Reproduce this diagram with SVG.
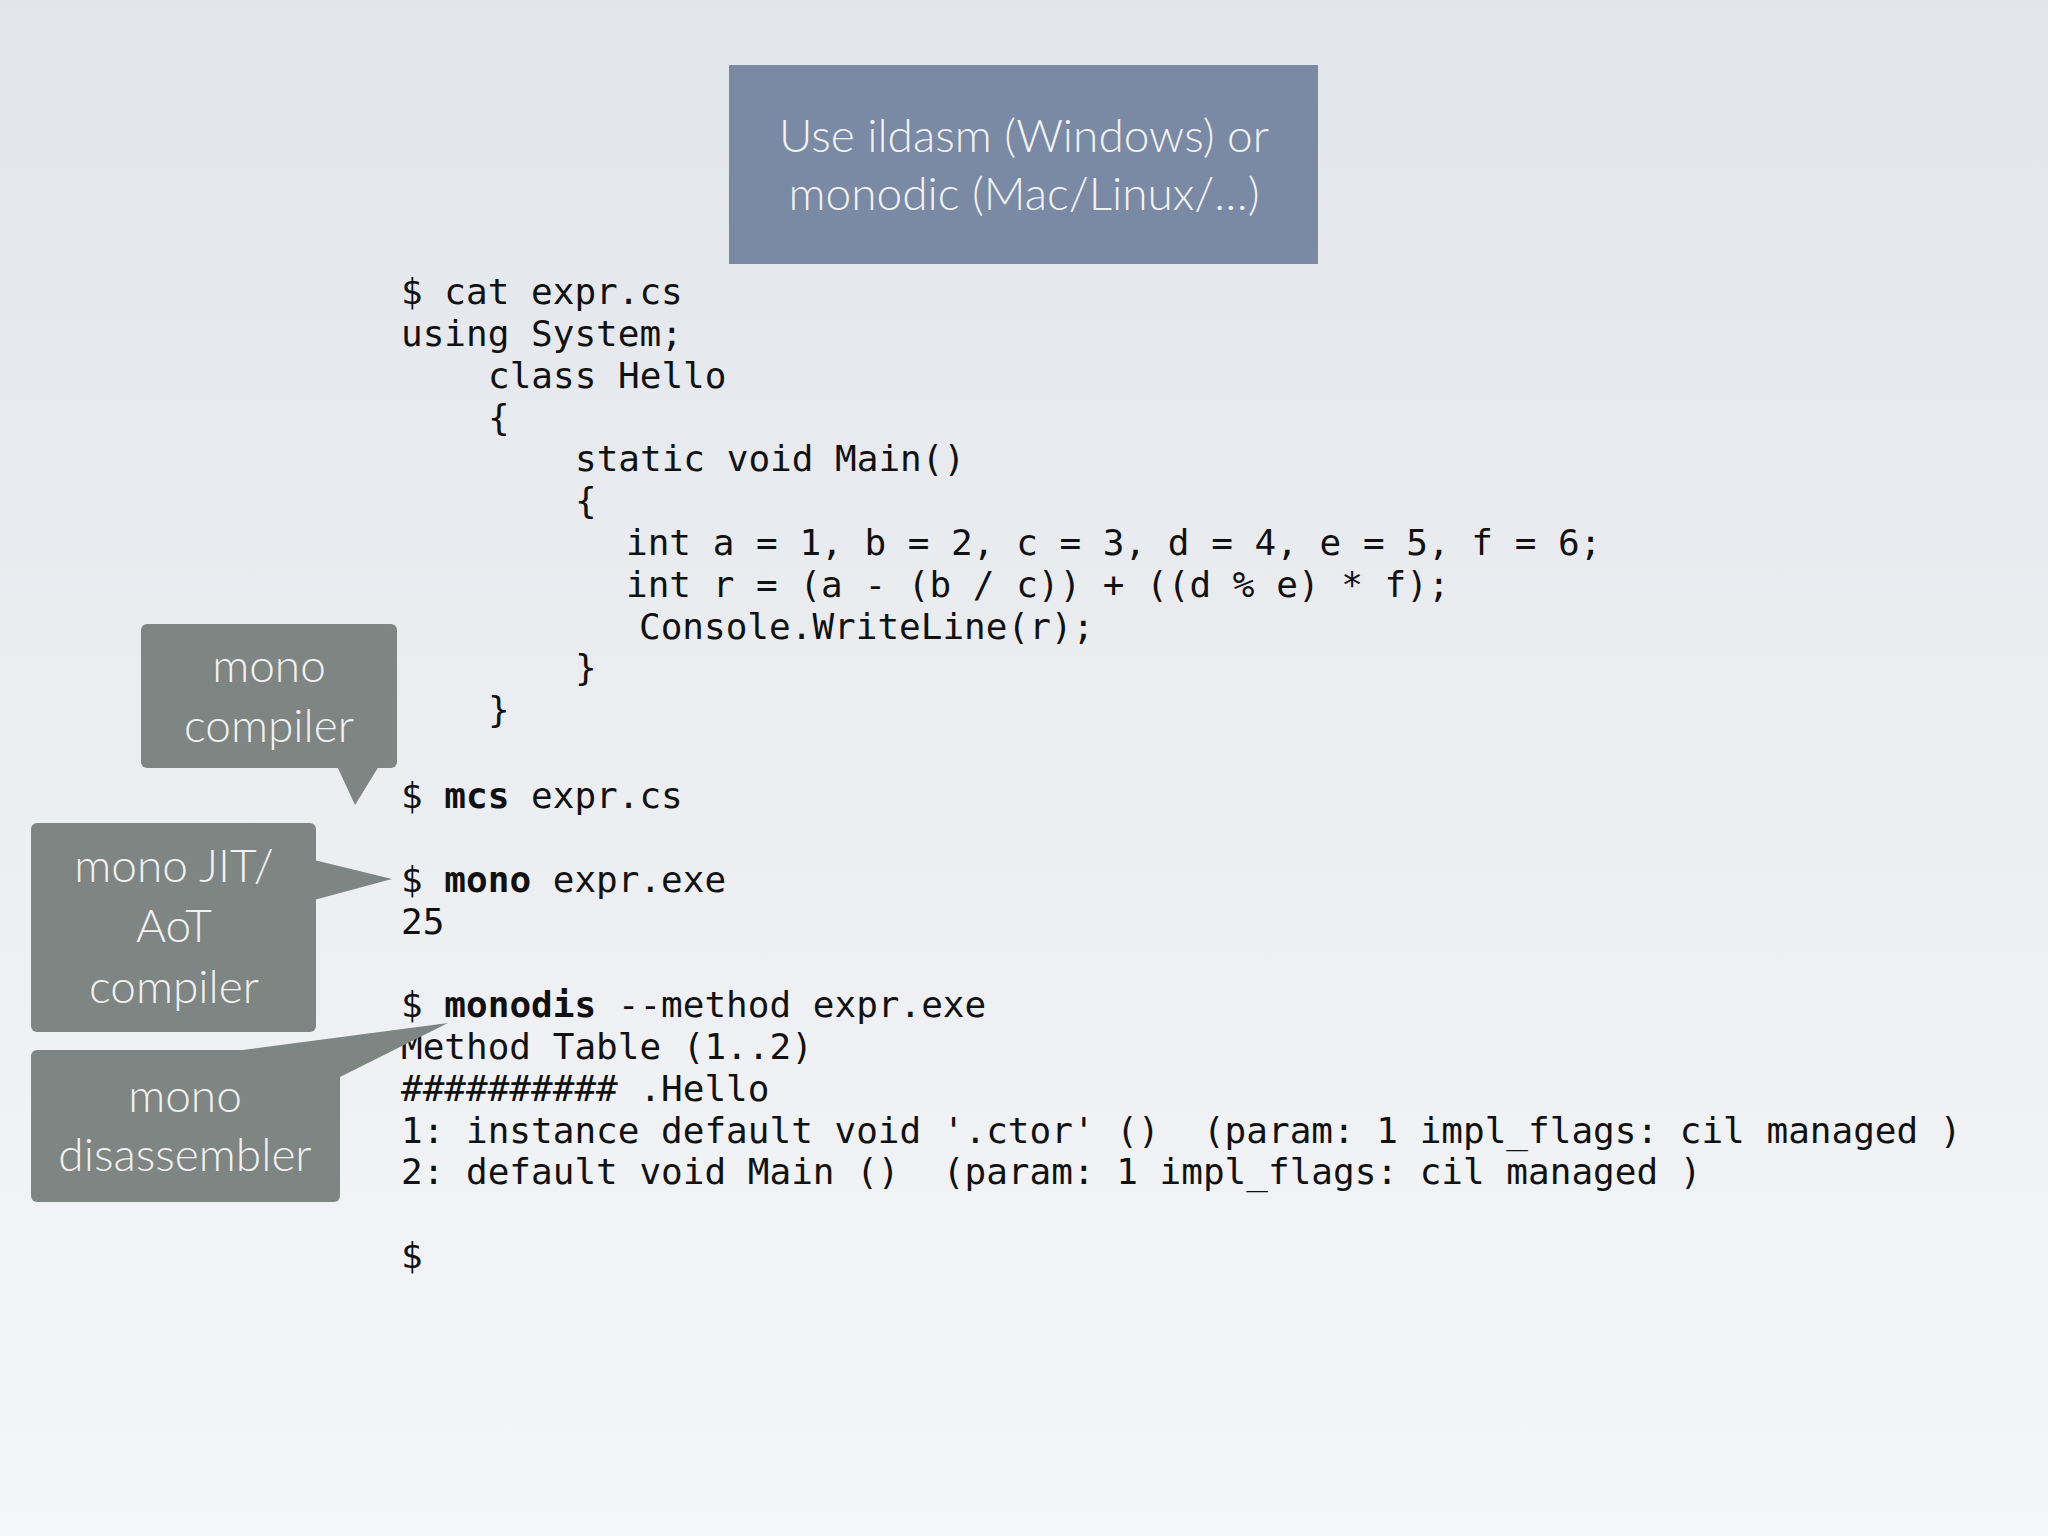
<svg xmlns="http://www.w3.org/2000/svg" width="2048" height="1536" viewBox="0 0 2048 1536">
<defs>
<linearGradient id="bg" x1="0" y1="0" x2="0" y2="1"><stop offset="0" stop-color="#e2e5ea"/><stop offset="1" stop-color="#f5f6f8"/></linearGradient>
<style>
.code{font-family:"DejaVu Sans Mono",monospace;font-size:36px;fill:#111;white-space:pre}
.b{font-weight:bold}
.call{fill:#7f8582}
.ct{font-family:Lato,"Open Sans",sans-serif;font-weight:300;font-size:46px;fill:#f2f2f2;text-anchor:middle}
</style>
</defs>
<rect width="2048" height="1536" fill="url(#bg)"/>
<g id="title">
<rect x="729" y="65" width="589" height="199" fill="#7a89a4"/>
<text class="ct" x="1024" y="152" fill="#e8ecf2">Use ildasm (Windows) or</text>
<text class="ct" x="1024" y="210" fill="#e8ecf2">monodic (Mac/Linux/…)</text>
</g>
<g id="code" class="code">
<text xml:space="preserve" x="401" y="304">$ cat expr.cs</text>
<text xml:space="preserve" x="401" y="346">using System;</text>
<text xml:space="preserve" x="488" y="388">class Hello</text>
<text xml:space="preserve" x="488" y="430">{</text>
<text xml:space="preserve" x="575" y="471">static void Main()</text>
<text xml:space="preserve" x="575" y="513">{</text>
<text xml:space="preserve" x="626" y="555">int a = 1, b = 2, c = 3, d = 4, e = 5, f = 6;</text>
<text xml:space="preserve" x="626" y="597">int r = (a - (b / c)) + ((d % e) * f);</text>
<text xml:space="preserve" x="639" y="639">Console.WriteLine(r);</text>
<text xml:space="preserve" x="575" y="680">}</text>
<text xml:space="preserve" x="488" y="722">}</text>
<text xml:space="preserve" x="401" y="808">$ <tspan class="b">mcs</tspan> expr.cs</text>
<text xml:space="preserve" x="401" y="892">$ <tspan class="b">mono</tspan> expr.exe</text>
<text xml:space="preserve" x="401" y="934">25</text>
<text xml:space="preserve" x="401" y="1017">$ <tspan class="b">monodis</tspan> --method expr.exe</text>
<text xml:space="preserve" x="401" y="1059">Method Table (1..2)</text>
<text xml:space="preserve" x="401" y="1101">########## .Hello</text>
<text xml:space="preserve" x="401" y="1143">1: instance default void '.ctor' ()  (param: 1 impl_flags: cil managed )</text>
<text xml:space="preserve" x="401" y="1184">2: default void Main ()  (param: 1 impl_flags: cil managed )</text>
<text xml:space="preserve" x="401" y="1268">$</text>
</g>
<g id="callout-compiler">
<rect class="call" x="141" y="624" width="256" height="144" rx="6"/>
<polygon class="call" points="337,766 379,766 355,805"/>
<text class="ct" x="269" y="682">mono</text>
<text class="ct" x="269" y="742">compiler</text>
</g>
<g id="callout-jit">
<rect class="call" x="31" y="823" width="285" height="209" rx="6"/>
<polygon class="call" points="314,860 314,900 392,879"/>
<text class="ct" x="174" y="882">mono JIT/</text>
<text class="ct" x="174" y="942">AoT</text>
<text class="ct" x="174" y="1003">compiler</text>
</g>
<g id="callout-dis">
<rect class="call" x="31" y="1050" width="309" height="152" rx="6"/>
<polygon class="call" points="228,1052 338,1052 338,1078 448,1023"/>
<text class="ct" x="185" y="1112">mono</text>
<text class="ct" x="185" y="1171">disassembler</text>
</g>
</svg>
